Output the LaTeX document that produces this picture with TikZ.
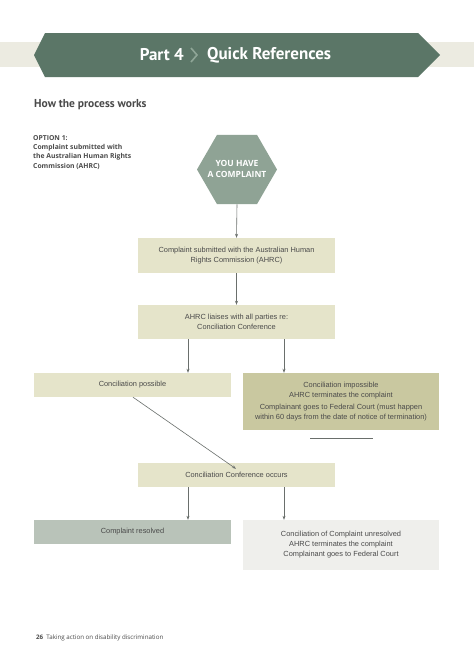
\documentclass[tikz,border=0pt]{standalone}
\usepackage{fontspec}
\setmainfont{Liberation Sans}
\newfontfamily\headfont{Open Sans}
\newfontfamily\titlefont{PT Sans}
\usetikzlibrary{shapes.geometric,arrows.meta}
\definecolor{band}{HTML}{ECEBE1}
\definecolor{banner}{HTML}{5B7667}
\definecolor{chev}{HTML}{8FA697}
\definecolor{hexc}{HTML}{8FA395}
\definecolor{beige}{HTML}{E5E4CA}
\definecolor{olive}{HTML}{C9C8A0}
\definecolor{sage}{HTML}{B9C3B9}
\definecolor{pale}{HTML}{EFEFEC}
\definecolor{txt}{HTML}{4A4A4A}
\definecolor{arr}{HTML}{6A6F6C}
\tikzset{
  box/.style={rectangle, inner sep=0pt, align=center, text=txt,
    font=\fontsize{7.4}{10}\selectfont},
  conn/.style={draw=arr, line width=0.6pt, -{Stealth[length=4pt,width=3pt]}},
  head/.style={inner sep=0pt, anchor=west, text=txt}
}
\begin{document}
\begin{tikzpicture}[x=1pt,y=-1pt]
\useasboundingbox (0,0) rectangle (474,670);
\fill[white] (0,0) rectangle (474,670);
% header band
\fill[band] (0,42) rectangle (474,67);
\fill[banner] (34,55) -- (45,33) -- (418,33) -- (440,55) -- (418,77) -- (45,77) -- cycle;
\node[inner sep=0pt, text=white, font=\titlefont\bfseries\fontsize{17}{19}\selectfont, anchor=east] (p4) at (184,55) {Part 4};
\node[inner sep=0pt, text=white, font=\titlefont\bfseries\fontsize{17}{19}\selectfont, anchor=west] (qr) at (207,55) {Quick References};
\draw[chev, line width=1.6pt] (191,48) -- (197,55) -- (191,62);
% headings
\node[head, font=\titlefont\bfseries\fontsize{11.5}{13}\selectfont] (how) at (34,105) {How the process works};
\node[head, anchor=north west, align=left, font=\headfont\bfseries\fontsize{6.8}{9.3}\selectfont] (opt) at (33,135) {OPTION 1:\\Complaint submitted with\\the Australian Human Rights\\Commission (AHRC)};
% hexagon
\node[regular polygon, regular polygon sides=6, minimum size=80pt, inner sep=0pt, fill=hexc] (hex) at (237,169.5) {};
\node[inner sep=0pt, align=center, text=white, font=\headfont\bfseries\fontsize{8.5}{10.5}\selectfont] (hext) at (237,169) {YOU HAVE\\A COMPLAINT};
% boxes
\node[box, fill=beige, minimum width=197pt, minimum height=35pt] (b1) at (236.5,255.5) {Complaint submitted with the Australian Human\\Rights Commission (AHRC)};
\node[box, fill=beige, minimum width=197pt, minimum height=34pt] (b2) at (236.5,322) {AHRC liaises with all parties re:\\Conciliation Conference};
\node[box, fill=beige, minimum width=197pt, minimum height=24pt] (b3) at (132.5,385) {Conciliation possible};
\node[box, fill=olive, minimum width=196pt, minimum height=57pt] (b4) at (341,401.5) {Conciliation impossible\\AHRC terminates the complaint\\[2pt]Complainant goes to Federal Court (must happen\\within 60 days from the date of notice of termination)};
\coordinate (ul1) at (310,438);
\coordinate (ul2) at (373,438);
\draw[arr, line width=0.6pt] (ul1) -- (ul2);
\node[box, fill=beige, minimum width=197pt, minimum height=24pt] (b5) at (236.5,475) {Conciliation Conference occurs};
\node[box, fill=sage, minimum width=197pt, minimum height=24pt] (b6) at (132.5,532) {Complaint resolved};
\node[box, fill=pale, minimum width=196pt, minimum height=50pt] (b7) at (341,545) {Conciliation of Complaint unresolved\\AHRC terminates the complaint\\Complainant goes to Federal Court};
% connectors
\draw[conn] (hex.south) -- (b1.north);
\draw[conn] (b1.south) -- (b2.north);
\draw[conn] ([xshift=-48.5pt]b2.south) -- ([xshift=-48.5pt]b2.south |- b3.north);
\draw[conn] ([xshift=47.5pt]b2.south) -- ([xshift=47.5pt]b2.south |- b4.north);
\draw[conn] ([xshift=0.5pt]b3.south) -- ([xshift=-0.5pt,yshift=-6pt]b5.north);
\draw[conn] ([xshift=-48.5pt]b5.south) -- ([xshift=-48.5pt]b5.south |- b6.north);
\draw[conn] ([xshift=47.5pt]b5.south) -- ([xshift=47.5pt]b5.south |- b7.north);
% footer
\node[head, font=\headfont\fontsize{6.2}{7.5}\selectfont] (foot) at (36,638) {\textbf{26}\enspace Taking action on disability discrimination};
\end{tikzpicture}
\end{document}
